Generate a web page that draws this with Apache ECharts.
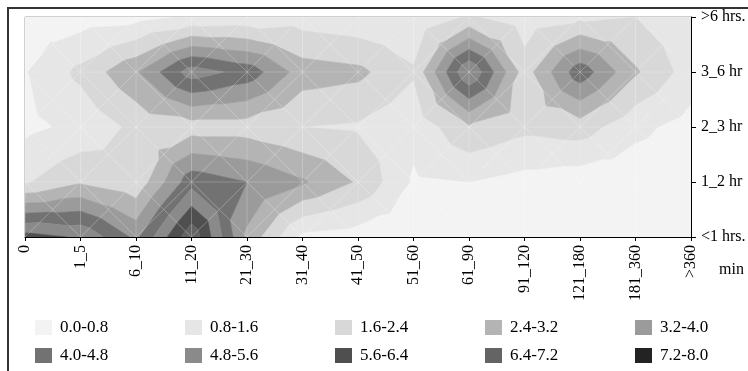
<!DOCTYPE html>
<html>
<head>
<meta charset="utf-8">
<script src="https://cdn.jsdelivr.net/npm/echarts@6/dist/echarts.min.js"></script>
<style>html,body{margin:0;padding:0;background:#fff;}#chart{width:748px;height:371px;}</style>
</head>
<body>
<div id="chart"></div>
<script>
// Categories
const xCats = ['0','1_5','6_10','11_20','21_30','31_40','41_50','51_60','61_90','91_120','121_180','181_360','>360'];
const yCats = ['<1 hrs.','1_2 hr','2_3 hr','3_6 hr','>6 hrs.'];
// Contour bands
const bandNames = ['0.0-0.8','0.8-1.6','1.6-2.4','2.4-3.2','3.2-4.0','4.0-4.8','4.8-5.6','5.6-6.4','6.4-7.2','7.2-8.0'];
const bandLimits = [0, 0.8, 1.6, 2.4, 3.2, 4.0, 4.8, 5.6, 6.4, 7.2, 8.0];
const bandColors = ['#f3f3f3','#e6e6e6','#d8d8d8','#b4b4b4','#9b9b9b','#727272','#8a8a8a','#4f4f4f','#646464','#232323'];
// Values per y category (rows), one value per x category
const rowLt1  = [5.9, 5.5, 3.8, 7.0, 3.0, 0.6, 0.4, 0.2, 0.2, 0.2, 0.2, 0.2, 0.2];
const row1to2 = [1.5, 2.3, 1.8, 4.5, 4.0, 3.3, 2.3, 0.7, 0.8, 0.5, 0.3, 0.3, 0.3];
const row2to3 = [0.6, 1.0, 1.8, 2.0, 2.0, 1.6, 1.5, 1.0, 2.3, 1.8, 2.0, 1.0, 0.5];
const row3to6 = [0.75,1.8, 3.1, 5.2, 4.5, 2.8, 2.6, 1.7, 5.6, 2.0, 4.5, 2.5, 1.2];
const rowGt6  = [0.4, 0.4, 0.5, 0.9, 1.0, 1.2, 1.0, 0.9, 1.7, 1.1, 1.4, 1.6, 1.0];
const rows = [rowLt1, row1to2, row2to3, row3to6, rowGt6];

const FONT = 'Liberation Serif';
const nx = xCats.length, ny = yCats.length;
const cells = [];
for (let j = 0; j < ny - 1; j++) for (let i = 0; i < nx - 1; i++) cells.push([i, j]);

function clip(poly, v, keepAbove) {
  const out = [];
  const n = poly.length;
  for (let k = 0; k < n; k++) {
    const a = poly[k], b = poly[(k + 1) % n];
    const ain = keepAbove ? a[2] >= v : a[2] <= v;
    const bin = keepAbove ? b[2] >= v : b[2] <= v;
    if (ain) out.push(a);
    if (ain !== bin) {
      const t = (v - a[2]) / (b[2] - a[2]);
      out.push([a[0] + t * (b[0] - a[0]), a[1] + t * (b[1] - a[1]), v]);
    }
  }
  return out;
}

function cellTriangles(i, j) {
  const p00 = [i, j, rows[j][i]], p10 = [i + 1, j, rows[j][i + 1]];
  const p11 = [i + 1, j + 1, rows[j + 1][i + 1]], p01 = [i, j + 1, rows[j + 1][i]];
  const pc = [i + 0.5, j + 0.5, (p00[2] + p10[2] + p11[2] + p01[2]) / 4];
  return [[p00, p10, pc], [p10, p11, pc], [p11, p01, pc], [p01, p00, pc]];
}

function makeBandRender(b) {
  const lo = b === 0 ? -Infinity : bandLimits[b];
  const hi = b === bandNames.length - 1 ? Infinity : bandLimits[b + 1];
  return function (params, api) {
    const i = api.value(0), j = api.value(1);
    const children = [];
    cellTriangles(i, j).forEach(tri => {
      let p = clip(tri, lo, true);
      if (p.length >= 3) p = clip(p, hi, false);
      if (p.length >= 3) {
        children.push({
          type: 'polygon',
          shape: { points: p.map(q => api.coord([q[0], q[1]])) },
          style: { fill: bandColors[b], stroke: bandColors[b], lineWidth: 0.6 }
        });
      }
    });
    return { type: 'group', children };
  };
}

const series = bandNames.map((name, b) => ({
  name,
  type: 'custom',
  data: cells,
  renderItem: makeBandRender(b),
  itemStyle: { color: bandColors[b] },
  clip: true,
  silent: true,
  z: 2
}));

// wireframe of the surface mesh
series.push({
  type: 'custom',
  data: cells,
  silent: true,
  clip: true,
  z: 3,
  renderItem: function (params, api) {
    const i = api.value(0), j = api.value(1);
    const a = api.coord([i, j]), b = api.coord([i + 1, j]), c = api.coord([i + 1, j + 1]), d = api.coord([i, j + 1]);
    const st = { stroke: 'rgba(255,255,255,0.22)', lineWidth: 1 };
    return { type: 'group', children: [
      { type: 'line', shape: { x1: a[0], y1: a[1], x2: c[0], y2: c[1] }, style: st },
      { type: 'line', shape: { x1: b[0], y1: b[1], x2: d[0], y2: d[1] }, style: st },
      { type: 'line', shape: { x1: d[0], y1: d[1], x2: c[0], y2: c[1] }, style: st },
      { type: 'line', shape: { x1: a[0], y1: a[1], x2: d[0], y2: d[1] }, style: st }
    ]};
  }
});

const legendCols = [35, 185, 335, 485, 635];
const legendRows = [319, 347];
const legends = bandNames.map((name, b) => ({
  data: [{ name, icon: 'rect' }],
  left: legendCols[b % 5],
  top: legendRows[Math.floor(b / 5)],
  orient: 'horizontal',
  itemWidth: 17,
  itemHeight: 15,
  padding: 0,
  selectedMode: false,
  textStyle: { fontFamily: FONT, fontSize: 17, color: '#000', padding: [0, 0, 0, 3] }
}));

const chart = echarts.init(document.getElementById('chart'), null, { renderer: 'canvas' });
chart.setOption({
  animation: false,
  backgroundColor: '#fff',
  grid: { left: 25, right: 57, top: 17, bottom: 134, outerBoundsMode: 'none', containLabel: false,
    show: true, borderColor: '#a0a0a0', borderWidth: 1 },
  xAxis: {
    type: 'value', min: 0, max: nx - 1, interval: 1,
    axisLine: { show: true, onZero: false, lineStyle: { color: '#000', width: 1 } },
    axisTick: { show: true, length: 4, lineStyle: { color: '#000' } },
    splitLine: { show: false },
    axisLabel: { rotate: 90, margin: 8, fontFamily: FONT, fontSize: 16, color: '#000',
      showMinLabel: true, showMaxLabel: true, formatter: v => xCats[Math.round(v)] || '' }
  },
  yAxis: {
    type: 'value', min: 0, max: ny - 1, interval: 1, position: 'right',
    axisLine: { show: true, onZero: false, lineStyle: { color: '#000', width: 1 } },
    axisTick: { show: true, length: 5, lineStyle: { color: '#000' } },
    splitLine: { show: false },
    axisLabel: { margin: 10, fontFamily: FONT, fontSize: 16, color: '#000',
      showMinLabel: true, showMaxLabel: true, formatter: v => yCats[Math.round(v)] || '' }
  },
  legend: legends,
  graphic: [
    { type: 'rect', shape: { x: 8, y: 8, width: 800, height: 420 }, style: { fill: 'none', stroke: '#333', lineWidth: 2 }, silent: true, z: 100 },
    { type: 'text', left: 719, top: 262, style: { text: 'min', font: '16px "' + FONT + '"', fill: '#000' }, silent: true }
  ],
  series
});
</script>
</body>
</html>
